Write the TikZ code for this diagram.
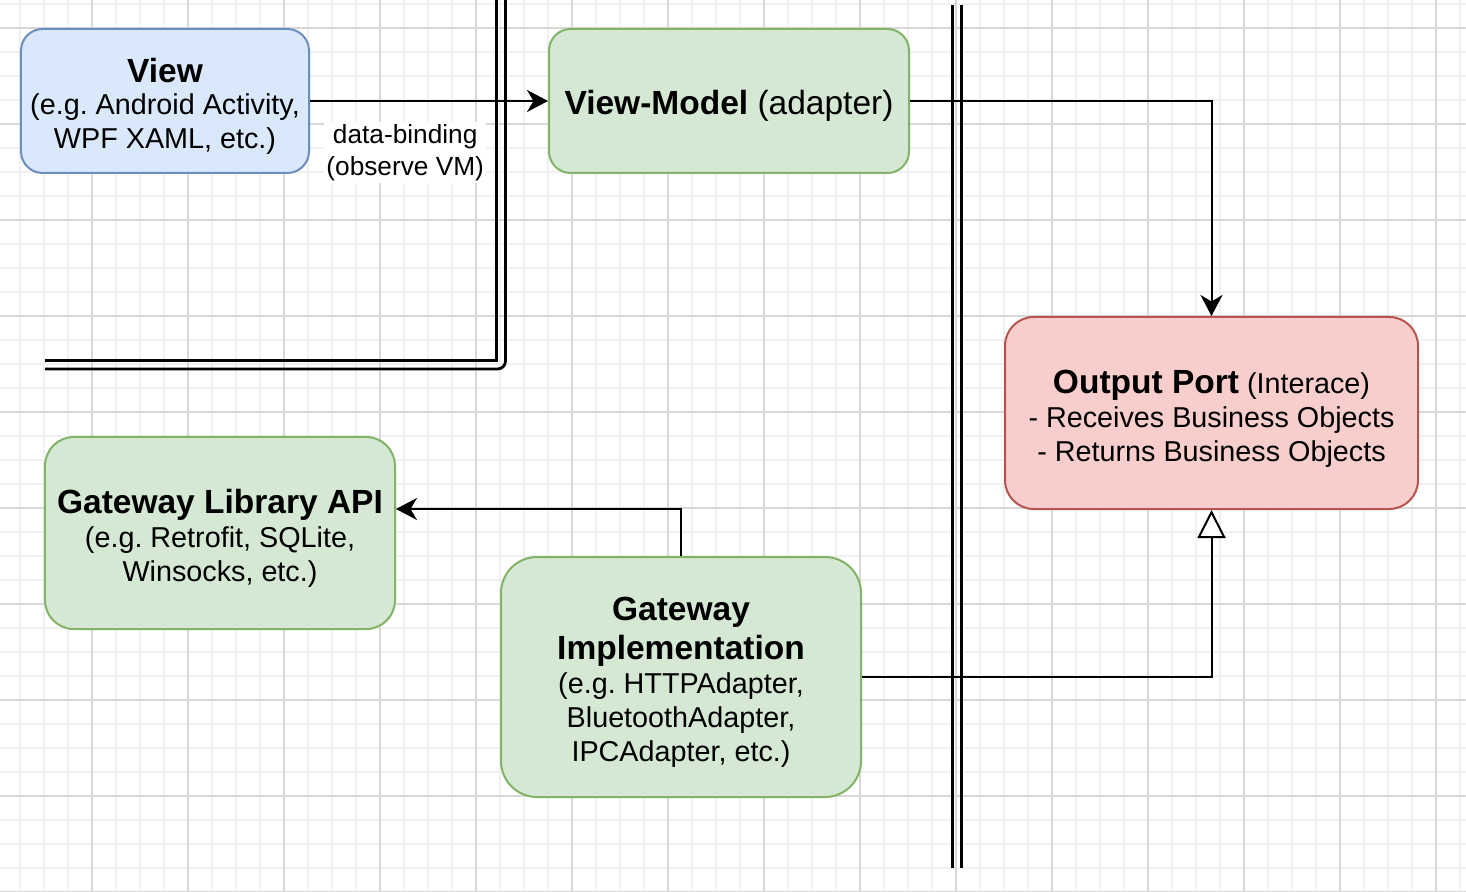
\documentclass[tikz,border=0pt]{standalone}
\usepackage{fontspec}
\setmainfont{Liberation Sans}
\usepackage{tikz}
\usetikzlibrary{arrows.meta, positioning}
\frenchspacing
\definecolor{viewblue}{HTML}{DAE8FC}
\definecolor{viewedge}{HTML}{6C8EBF}
\definecolor{adaptgreen}{HTML}{D5E8D4}
\definecolor{adaptedge}{HTML}{82B366}
\definecolor{portred}{HTML}{F8CECC}
\definecolor{portedge}{HTML}{B85450}
\definecolor{gridminor}{HTML}{F0F0F0}
\definecolor{gridmajor}{HTML}{D8D8D8}
\newcommand{\boxlarge}{\fontsize{13.4}{16}\selectfont}
\newcommand{\boxtitle}{\boxlarge\bfseries}
\newcommand{\boxbody}{\fontsize{11.5}{13.6}\selectfont}
\newcommand{\boxstrut}{\rule{0pt}{13.8pt}}

\begin{document}
\begin{tikzpicture}[
  x=0.4pt, y=-0.4pt,
  box/.style={draw, line width=0.8pt, align=center, inner sep=0pt, font=\boxbody},
  conn/.style={line width=0.8pt, -{Stealth[length=8.4pt, width=8.8pt, inset=2.6pt]}},
  realize/.style={line width=0.8pt, -{Triangle[length=11.2pt, width=11.2pt, fill=white]}},
  wall/.style={line width=1.1pt},
  minorgrid/.style={gridminor, line width=0.7pt},
  majorgrid/.style={gridmajor, line width=0.6pt},
  edgelabel/.style={fill=white, font=\fontsize{10.5}{12.6}\selectfont, align=center, inner sep=1pt}
]
  \useasboundingbox[fill=white] (0,0) rectangle (1466,892);

  % background grid
  \foreach \gx in {20,44,...,1460} \draw[minorgrid] (\gx,0) -- (\gx,892);
  \foreach \gy in {4,28,...,892} \draw[minorgrid] (0,\gy) -- (1466,\gy);
  \foreach \gx in {92,188,...,1436} \draw[majorgrid] (\gx,0) -- (\gx,892);
  \foreach \gy in {28,124,...,892} \draw[majorgrid] (0,\gy) -- (1466,\gy);

  % layer boundaries
  \draw[wall] (45,360.5) -- (496.7,360.5) -- (496.7,0);
  \draw[wall, rounded corners=3.2pt] (45,369) -- (505.5,369) -- (505.5,0);
  \draw[wall] (952.3,5) -- (952.3,868);
  \draw[wall] (961.5,5) -- (961.5,868);

  % View
  \node[box, fill=viewblue, draw=viewedge, minimum width=115.2pt, minimum height=57.6pt,
    rounded corners=8.64pt] (view) at (165,101)
    {{\boxtitle\boxstrut View}\\[-0.8pt](e.g. Android Activity,\\WPF XAML, etc.)};

  % View-Model
  \node[box, fill=adaptgreen, draw=adaptedge, minimum width=144pt, minimum height=57.6pt,
    rounded corners=8.64pt, font=\boxlarge] (vm) at (729,101)
    {\boxstrut{\bfseries View-Model} (adapter)};

  % Output Port
  \node[box, fill=portred, draw=portedge, minimum width=165.2pt, minimum height=76.8pt,
    rounded corners=11.52pt] (outp) at (1211.5,413)
    {{\boxtitle\boxstrut Output Port} (Interace)\\- Receives Business Objects\\- Returns Business Objects};

  % Gateway Library API
  \node[box, fill=adaptgreen, draw=adaptedge, minimum width=140pt, minimum height=76.8pt,
    rounded corners=11.52pt] (gla) at (220,533)
    {{\boxtitle\boxstrut Gateway Library API}\\(e.g. Retrofit, SQLite,\\Winsocks, etc.)};

  % Gateway Implementation
  \node[box, fill=adaptgreen, draw=adaptedge, minimum width=144pt, minimum height=96pt,
    rounded corners=14.4pt] (gimpl) at (681,677)
    {{\boxtitle\boxstrut Gateway}\\[2pt]{\boxtitle Implementation}\\(e.g. HTTPAdapter,\\BluetoothAdapter,\\IPCAdapter, etc.)};

  % connectors
  \draw[conn] (view) -- node[edgelabel, pos=0.4, below=8pt] (bindlabel) {data-binding\\(observe VM)} (vm);
  \draw[conn] (vm.east) -| (outp.north);
  \draw[conn] (gimpl.north) |- ([yshift=9.6pt]gla.east);
  \draw[realize] (gimpl.east) -| (outp.south);
\end{tikzpicture}
\end{document}
